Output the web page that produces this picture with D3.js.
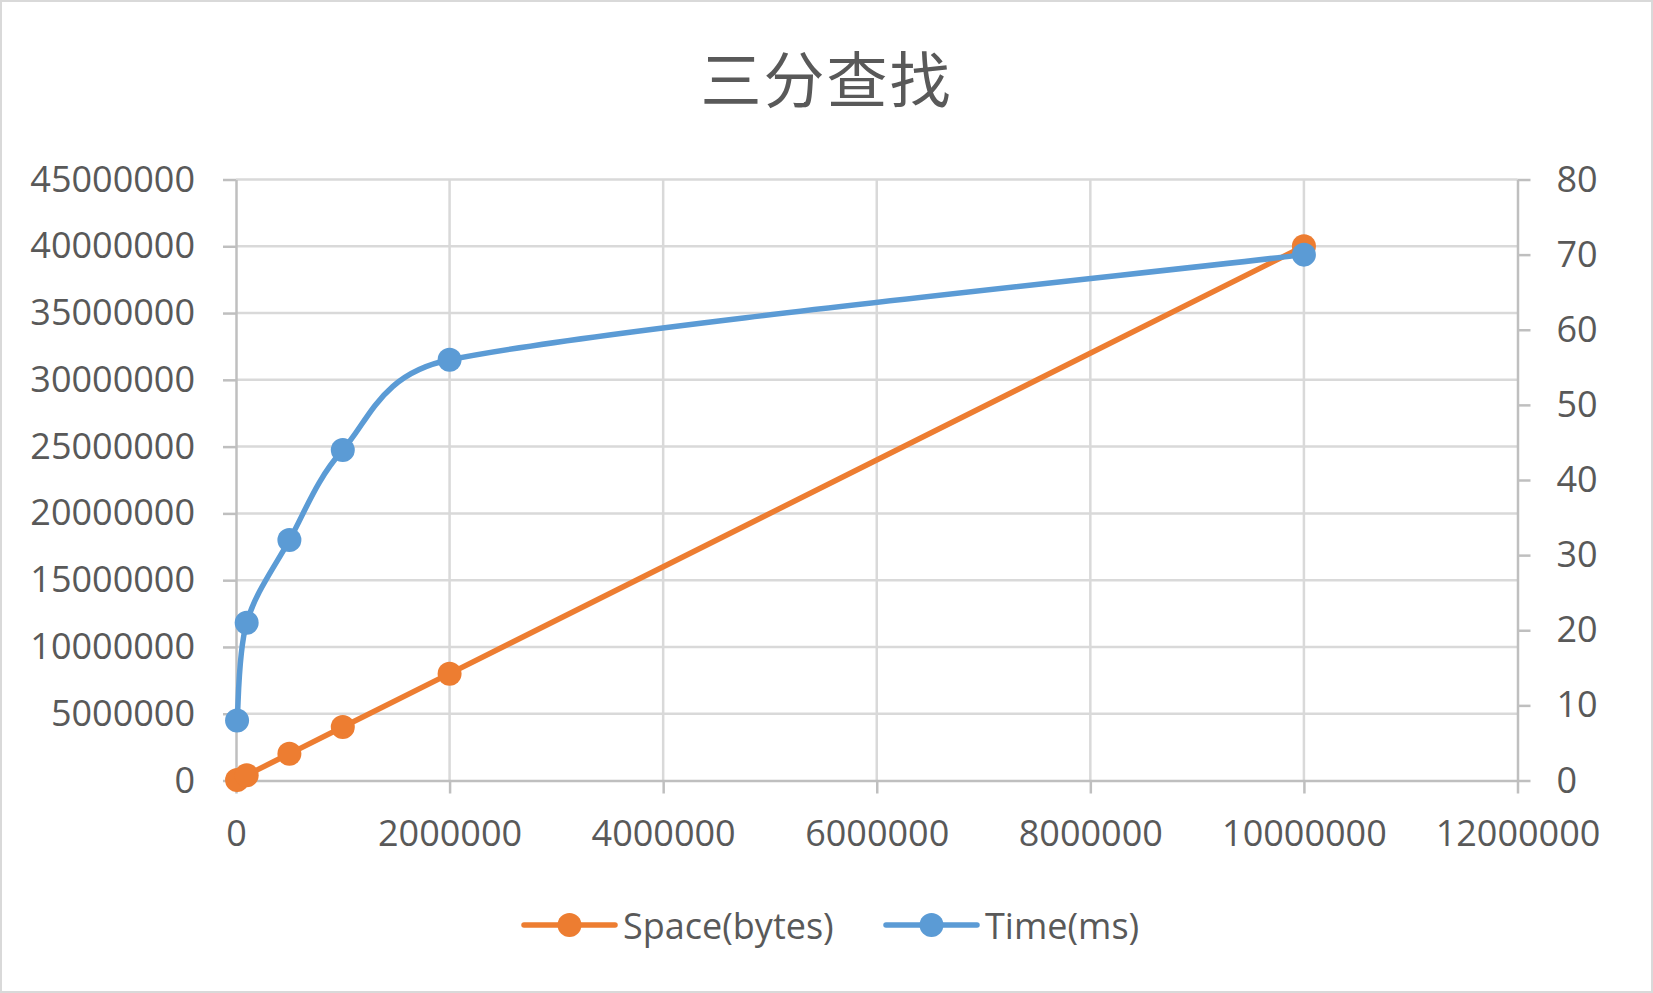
<!DOCTYPE html>
<html><head><meta charset="utf-8">
<script src="https://cdn.jsdelivr.net/npm/d3@7"></script>
<style>
html,body{margin:0;padding:0;background:#fff;}
svg{display:block;}
text{font-family:"Open Sans","Liberation Sans",sans-serif;fill:#595959;}
</style></head>
<body>
<script>
const title = "三分查找";
const nValues = [10000, 100000, 500000, 1000000, 2000000, 10000000];
const spaceBytes = [40000, 400000, 2000000, 4000000, 8000000, 40000000];
const timeMs = [8, 21, 32, 44, 56, 70];
const seriesNames = ["Space(bytes)", "Time(ms)"];
const xTicks = [0, 2000000, 4000000, 6000000, 8000000, 10000000, 12000000];
const yLeftTicks = [0, 5000000, 10000000, 15000000, 20000000, 25000000, 30000000, 35000000, 40000000, 45000000];
const yRightTicks = [0, 10, 20, 30, 40, 50, 60, 70, 80];

const W = 1653, H = 993;
const m = {left: 236, right: 1517.5, top: 179.5, bottom: 780.5};
const orange = "#ED7D31", blue = "#5B9BD5";
const gridC = "#d9d9d9", axisC = "#bfbfbf";
const fs = "36px";

const svg = d3.select("body").append("svg").attr("width", W).attr("height", H);
svg.append("rect").attr("x", 1).attr("y", 1).attr("width", W - 2).attr("height", H - 2)
  .attr("fill", "#fff").attr("stroke", "#d9d9d9").attr("stroke-width", 2);

const x = d3.scaleLinear().domain([0, 12000000]).range([m.left, m.right]);
const yL = d3.scaleLinear().domain([0, 45000000]).range([m.bottom, m.top]);
const yR = d3.scaleLinear().domain([0, 80]).range([m.bottom, m.top]);

// title
svg.append("text").attr("x", W / 2).attr("y", 76).attr("text-anchor", "middle")
  .attr("dominant-baseline", "central")
  .style("font-family", "'Noto Sans CJK SC',sans-serif").style("font-size", "61px")
  .style("letter-spacing", "2px").text(title);

// gridlines
const g = svg.append("g");
g.selectAll("line.h").data(yLeftTicks.filter(d => d > 0)).enter().append("line")
  .attr("x1", m.left).attr("x2", m.right).attr("y1", d => yL(d)).attr("y2", d => yL(d))
  .attr("stroke", gridC).attr("stroke-width", 2.5);
g.selectAll("line.v").data(xTicks.filter(d => d > 0 && d < 12000000)).enter().append("line")
  .attr("y1", m.top).attr("y2", m.bottom).attr("x1", d => x(d)).attr("x2", d => x(d))
  .attr("stroke", gridC).attr("stroke-width", 2.5);

// axes
const fmt = d3.format("d");
function styleAxis(sel) {
  sel.selectAll("path").attr("stroke", axisC).attr("stroke-width", 2.5);
  sel.selectAll("line").attr("stroke", axisC).attr("stroke-width", 2.5);
  sel.selectAll("text").style("font-size", fs).attr("fill", "#595959");
}
const ax = svg.append("g").attr("transform", `translate(0,${m.bottom})`)
  .call(d3.axisBottom(x).tickValues(xTicks).tickFormat(fmt).tickSize(13).tickSizeOuter(0).tickPadding(27));
styleAxis(ax);
const ayl = svg.append("g").attr("transform", `translate(${m.left},0)`)
  .call(d3.axisLeft(yL).tickValues(yLeftTicks).tickFormat(fmt).tickSize(13).tickSizeOuter(0).tickPadding(28));
styleAxis(ayl);
const ayr = svg.append("g").attr("transform", `translate(${m.right},0)`)
  .call(d3.axisRight(yR).tickValues(yRightTicks).tickFormat(fmt).tickSize(13).tickSizeOuter(0).tickPadding(26));
styleAxis(ayr);

// Excel-like smoothed line: Bezier with tangent (P[i+1]-P[i-1])/6, clamped to half segment length
function smoothPath(pts) {
  const p = d3.path();
  const n = pts.length;
  p.moveTo(pts[0][0], pts[0][1]);
  for (let i = 0; i < n - 1; i++) {
    const P0 = pts[Math.max(i - 1, 0)], P1 = pts[i], P2 = pts[i + 1], P3 = pts[Math.min(i + 2, n - 1)];
    const seg = Math.hypot(P2[0] - P1[0], P2[1] - P1[1]);
    let v1 = [(P2[0] - P0[0]) / 6, (P2[1] - P0[1]) / 6];
    let v2 = [(P3[0] - P1[0]) / 6, (P3[1] - P1[1]) / 6];
    const l1 = Math.hypot(v1[0], v1[1]), l2 = Math.hypot(v2[0], v2[1]);
    if (l1 > seg / 2) { v1 = [v1[0] * seg / 2 / l1, v1[1] * seg / 2 / l1]; }
    if (l2 > seg / 2) { v2 = [v2[0] * seg / 2 / l2, v2[1] * seg / 2 / l2]; }
    p.bezierCurveTo(P1[0] + v1[0], P1[1] + v1[1], P2[0] - v2[0], P2[1] - v2[1], P2[0], P2[1]);
  }
  return p.toString();
}

// series
const spaceData = nValues.map((n, i) => [n, spaceBytes[i]]);
const timeData = nValues.map((n, i) => [n, timeMs[i]]);
function drawSeries(data, yS, color) {
  const pts = data.map(d => [x(d[0]), yS(d[1])]);
  svg.append("path").attr("d", smoothPath(pts))
    .attr("fill", "none").attr("stroke", color).attr("stroke-width", 5.5)
    .attr("stroke-linecap", "round").attr("stroke-linejoin", "round");
  svg.append("g").selectAll("circle").data(data).enter().append("circle")
    .attr("cx", d => x(d[0])).attr("cy", d => yS(d[1])).attr("r", 12)
    .attr("fill", color);
}
drawSeries(spaceData, yL, orange);
drawSeries(timeData, yR, blue);

// legend
const legY = 925;
const legend = svg.append("g");
const legItems = [
  {name: seriesNames[0], color: orange, x0: 524},
  {name: seriesNames[1], color: blue, x0: 886}
];
legItems.forEach(it => {
  legend.append("line").attr("x1", it.x0).attr("x2", it.x0 + 91).attr("y1", legY).attr("y2", legY)
    .attr("stroke", it.color).attr("stroke-width", 5.5).attr("stroke-linecap", "round");
  legend.append("circle").attr("cx", it.x0 + 45.5).attr("cy", legY).attr("r", 12).attr("fill", it.color);
  legend.append("text").attr("x", it.x0 + 99).attr("y", legY).attr("dominant-baseline", "central")
    .style("font-size", fs).text(it.name);
});
</script>
</body></html>
